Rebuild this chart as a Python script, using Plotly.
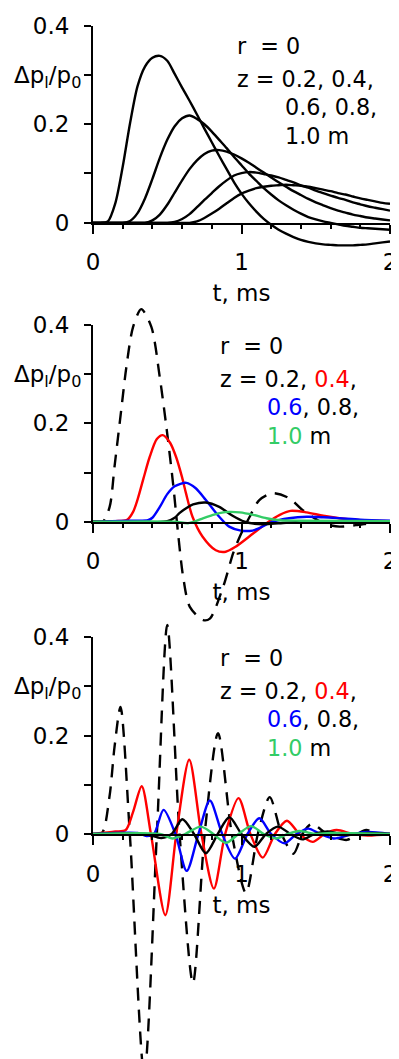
import plotly.graph_objects as go

# ---------------- data ----------------
# Panel 1 (common time grid, ms)
T1 = [0.00, 0.05, 0.10, 0.15, 0.20, 0.25, 0.30, 0.35, 0.40, 0.45, 0.50, 0.55, 0.60, 0.65,
      0.70, 0.75, 0.80, 0.85, 0.90, 0.95, 1.00, 1.05, 1.10, 1.15, 1.20, 1.25, 1.30, 1.35,
      1.40, 1.45, 1.50, 1.55, 1.60, 1.65, 1.70, 1.75, 1.80, 1.85, 1.90, 1.95, 2.00]
P1_Z02 = [0, 0, 0.003, 0.040, 0.115, 0.205, 0.280, 0.320, 0.338, 0.342, 0.332, 0.305, 0.277, 0.250,
          0.222, 0.193, 0.165, 0.137, 0.110, 0.083, 0.060, 0.040, 0.023, 0.008, -0.004, -0.014, -0.022, -0.029,
          -0.035, -0.039, -0.042, -0.044, -0.045, -0.046, -0.046, -0.046, -0.045, -0.044, -0.042, -0.040, -0.038]
P1_Z04 = [0, 0, 0, 0, 0, 0.004, 0.020, 0.050, 0.090, 0.133, 0.170, 0.198, 0.214, 0.220,
          0.213, 0.202, 0.187, 0.170, 0.153, 0.135, 0.118, 0.101, 0.086, 0.071, 0.058, 0.046, 0.036, 0.027,
          0.019, 0.012, 0.007, 0.003, 0.000, -0.003, -0.006, -0.008, -0.010, -0.011, -0.012, -0.013, -0.014]
P1_Z06 = [0, 0, 0, 0, 0, 0, 0, 0, 0.005, 0.017, 0.037, 0.062, 0.087, 0.110,
          0.128, 0.141, 0.148, 0.149, 0.146, 0.140, 0.132, 0.123, 0.113, 0.103, 0.093, 0.083, 0.074, 0.065,
          0.057, 0.049, 0.042, 0.036, 0.030, 0.025, 0.021, 0.017, 0.014, 0.011, 0.009, 0.007, 0.005]
P1_Z08 = [0, 0, 0, 0, 0, 0, 0, 0, 0, 0, 0, 0.002, 0.008, 0.018,
          0.032, 0.047, 0.061, 0.075, 0.087, 0.097, 0.102, 0.104, 0.103, 0.100, 0.097, 0.093, 0.088, 0.083,
          0.077, 0.072, 0.066, 0.061, 0.056, 0.051, 0.047, 0.042, 0.038, 0.034, 0.031, 0.028, 0.025]
P1_Z10 = [0, 0, 0, 0, 0, 0, 0, 0, 0, 0, 0, 0, 0, 0,
          0.003, 0.010, 0.019, 0.029, 0.040, 0.051, 0.060, 0.066, 0.071, 0.074, 0.076, 0.077, 0.078, 0.077,
          0.076, 0.074, 0.071, 0.068, 0.065, 0.061, 0.058, 0.054, 0.050, 0.047, 0.044, 0.041, 0.039]

# Panel 2
P2_T02 = [0, 0.066, 0.112, 0.145, 0.19, 0.225, 0.27, 0.325, 0.393, 0.449, 0.494, 0.539, 0.573, 0.607,
          0.652, 0.742, 0.787, 0.877, 0.944, 0.989, 1.055, 1.12, 1.21, 1.32, 1.41, 1.55, 1.66, 1.77, 1.89, 2.0]
P2_V02 = [0, 0, 0.03, 0.112, 0.227, 0.315, 0.396, 0.432, 0.396, 0.295, 0.193, 0.078, -0.024, -0.112,
          -0.173, -0.2, -0.197, -0.132, -0.064, -0.03, 0.01, 0.044, 0.058, 0.048, 0.024, -0.003, -0.01, -0.007, -0.002, 0]
P2_T04 = [0, 0.15, 0.23, 0.27, 0.3, 0.34, 0.38, 0.43, 0.47, 0.52, 0.559, 0.6, 0.626, 0.67, 0.737, 0.827,
          0.894, 0.96, 1.078, 1.168, 1.258, 1.33, 1.438, 1.55, 1.66, 1.8, 2.0]
P2_V04 = [0, 0.001, 0.004, 0.02, 0.045, 0.088, 0.13, 0.168, 0.176, 0.16, 0.132, 0.09, 0.058, 0.01, -0.03, -0.058,
          -0.061, -0.051, -0.024, -0.003, 0.014, 0.022, 0.019, 0.012, 0.007, 0.003, 0.001]
P2_T06 = [0, 0.25, 0.37, 0.4, 0.45, 0.5, 0.55, 0.629, 0.692, 0.76, 0.85, 0.917, 0.996, 1.075, 1.12, 1.21,
          1.32, 1.44, 1.55, 1.66, 1.8, 2.0]
P2_V06 = [0, 0.002, 0.003, 0.008, 0.03, 0.056, 0.072, 0.079, 0.068, 0.044, 0.01, -0.01, -0.018, -0.018, -0.013, 0.0,
          0.007, 0.01, 0.009, 0.007, 0.004, 0.002]
P2_T08 = [0, 0.5, 0.55, 0.584, 0.63, 0.674, 0.76, 0.85, 0.94, 1.02, 1.08, 1.17, 1.3, 1.45, 2.0]
P2_V08 = [0, 0.001, 0.008, 0.018, 0.028, 0.035, 0.039, 0.03, 0.012, 0.0, -0.004, -0.005, -0.002, 0.0, 0.001]
P2_T10 = [0, 0.55, 0.64, 0.7, 0.74, 0.8, 0.86, 0.918, 0.988, 1.078, 1.168, 1.258, 1.4, 2.0]
P2_V10 = [0, 0.0, -0.003, 0.002, 0.007, 0.013, 0.018, 0.02, 0.019, 0.014, 0.007, 0.003, 0.002, 0.001]

# Panel 3
P3_T02 = [0, 0.06, 0.111, 0.145, 0.185, 0.248, 0.345, 0.43, 0.5, 0.583, 0.673, 0.752, 0.842, 0.935,
          1.03, 1.11, 1.19, 1.27, 1.35, 1.41, 1.47, 1.58, 1.71, 1.78, 1.84, 1.92, 2.0]
P3_V02 = [0, 0.002, 0.076, 0.177, 0.258, 0, -0.49, 0, 0.425, 0, -0.303, 0, 0.205, 0,
          -0.12, 0, 0.075, 0, -0.04, 0, 0.02, 0, -0.012, 0, 0.008, 0, 0]
P3_T04 = [0, 0.15, 0.22, 0.27, 0.328, 0.39, 0.487, 0.561, 0.648, 0.73, 0.814, 0.89, 0.98, 1.06,
          1.143, 1.225, 1.306, 1.39, 1.48, 1.56, 1.64, 1.75, 1.85, 2.0]
P3_V04 = [0, 0.005, 0.008, 0.045, 0.097, 0, -0.165, 0, 0.151, 0, -0.111, 0, 0.073, 0,
          -0.048, 0, 0.027, 0, -0.016, 0, 0.008, 0, -0.003, 0]
P3_T06 = [0, 0.3, 0.36, 0.41, 0.475, 0.555, 0.631, 0.71, 0.787, 0.87, 0.956, 1.04, 1.12, 1.2,
          1.29, 1.37, 1.45, 1.53, 1.62, 1.75, 1.85, 2.0]
P3_V06 = [0, 0.002, -0.004, 0, 0.049, 0, -0.075, 0, 0.068, 0, -0.05, 0, 0.032, 0,
          -0.019, 0, 0.011, 0, -0.009, 0, 0.004, 0]
P3_T08 = [0, 0.35, 0.46, 0.53, 0.602, 0.68, 0.76, 0.84, 0.918, 1.0, 1.087, 1.165, 1.245, 1.33,
          1.41, 1.49, 1.58, 1.7, 1.85, 2.0]
P3_V08 = [0, 0, -0.008, 0, 0.03, 0, -0.039, 0, 0.034, 0, -0.026, 0, 0.015, 0,
          -0.011, 0, 0.005, -0.002, 0.002, 0]
P3_T10 = [0, 0.45, 0.534, 0.62, 0.726, 0.81, 0.895, 0.98, 1.064, 1.15, 1.233, 1.31, 1.39, 1.5, 1.6, 2.0]
P3_V10 = [0, 0, -0.009, 0, 0.015, 0, -0.018, 0, 0.016, 0, -0.009, 0, 0.006, 0, 0.002, 0]

X_TICKS = [0, 1, 2]
X_MINOR = [0.2, 0.4, 0.6, 0.8, 1.2, 1.4, 1.6, 1.8]
Y_TICKS = [0, 0.2, 0.4]
Y_TEXT = ["0", "0.2", "0.4"]
Y_MINOR = [0.1, 0.3]

# ---------------- geometry ----------------
BODY = 8                       # default page margin around the plot div
W, H = 399 - BODY, 1059 - BODY
XL, XR = 93.0 - BODY, 390.0 - BODY      # pixel of t=0 and t=2 (in figure coords)
PPU = 492.0                             # pixels per unit of dp/p0
ZERO_PY = [222.5 - BODY, 521.7 - BODY, 834.0 - BODY]
DATA_RANGE = [(-0.1, 0.44), (-0.25, 0.46), (-(H - ZERO_PY[2]) / PPU, 0.45)]

FONT = "DejaVu Sans"
FS = 23
FS_NOTE = 22.3
GREEN = "#33CC66"
DASH = "13px,9px"

fig = go.Figure()

panels = [
    [(T1, P1_Z02, "black", "solid"), (T1, P1_Z04, "black", "solid"), (T1, P1_Z06, "black", "solid"),
     (T1, P1_Z08, "black", "solid"), (T1, P1_Z10, "black", "solid")],
    [(P2_T02, P2_V02, "black", DASH), (P2_T04, P2_V04, "red", "solid"), (P2_T06, P2_V06, "blue", "solid"),
     (P2_T08, P2_V08, "black", "solid"), (P2_T10, P2_V10, GREEN, "solid")],
    [(P3_T02, P3_V02, "black", DASH), (P3_T04, P3_V04, "red", "solid"), (P3_T06, P3_V06, "blue", "solid"),
     (P3_T08, P3_V08, "black", "solid"), (P3_T10, P3_V10, GREEN, "solid")],
]

layout = dict(width=W, height=H, autosize=False,
              margin=dict(l=0, r=0, t=0, b=0, pad=0, autoexpand=False),
              paper_bgcolor="white", plot_bgcolor="rgba(0,0,0,0)", showlegend=False,
              font=dict(family=FONT, size=FS, color="black"))
annotations = []

xdom = [XL / W, XR / W]
for k in range(3):
    da = 2 * k + 1   # data axes index
    aa = 2 * k + 2   # visible axes index
    z = ZERO_PY[k]
    ymin, ymax = DATA_RANGE[k]
    dname = "" if da == 1 else str(da)
    # data subplot (invisible axes, lines may run below the zero axis)
    layout["xaxis" + dname] = dict(domain=xdom, range=[0, 2], visible=False, anchor="y" + dname,
                                   automargin=False)
    layout["yaxis" + dname] = dict(domain=[max(0, 1 - (z - ymin * PPU) / H), min(1, 1 - (z - ymax * PPU) / H)],
                                   range=[ymin, ymax], visible=False, anchor="x" + dname, automargin=False)
    # visible axes subplot
    layout["xaxis" + str(aa)] = dict(
        domain=xdom, range=[0, 2], anchor="y" + str(aa), automargin=False,
        tickvals=X_TICKS, ticktext=[str(v) for v in X_TICKS], ticks="outside", ticklen=9, tickwidth=1.5,
        tickcolor="black", showline=True, linecolor="black", linewidth=2, showgrid=False, zeroline=False,
        minor=dict(tickvals=X_MINOR, ticks="outside", ticklen=4, tickwidth=1.5, tickcolor="black", showgrid=False),
        tickfont=dict(family=FONT, size=FS), ticklabelstandoff=9,
        title=dict(text="t, ms", font=dict(family=FONT, size=FS), standoff=11))
    layout["yaxis" + str(aa)] = dict(
        domain=[1 - z / H, 1 - (z - 0.4 * PPU) / H], range=[0, 0.4], anchor="x" + str(aa), automargin=False,
        tickvals=Y_TICKS, ticktext=Y_TEXT, ticks="outside", ticklen=7, tickwidth=1.5, tickcolor="black",
        minor=dict(tickvals=Y_MINOR, ticks="outside", ticklen=7, tickwidth=1.5, tickcolor="black", showgrid=False),
        showline=True, linecolor="black", linewidth=2, showgrid=False, zeroline=False,
        tickfont=dict(family=FONT, size=FS), ticklabelstandoff=10)
    fig.add_trace(go.Scatter(x=[0], y=[0], mode="markers", marker=dict(opacity=0, size=1),
                             xaxis="x" + str(aa), yaxis="y" + str(aa), hoverinfo="skip"))
    for (tt, vv, col, dash) in panels[k]:
        fig.add_trace(go.Scatter(x=tt, y=vv, mode="lines", xaxis="x" + dname, yaxis="y" + dname,
                                 line=dict(color=col, width=2.4, dash=dash, shape="spline", smoothing=0.8),
                                 hoverinfo="skip"))
    # y label
    annotations.append(dict(text="Δp<sub>l</sub>/p<sub>0</sub>", xref="paper", x=(83 - BODY) / W, xanchor="right",
                            yref="y" + str(aa), y=0.296, yanchor="middle", showarrow=False,
                            font=dict(family=FONT, size=FS)))
    # text block
    if k == 0:
        xa, xb = 0.954, 1.278
        l2 = "z = 0.2, 0.4,"
        l3 = "0.6, 0.8,"
        l4 = "1.0 m"
    else:
        xa, xb = 0.84, 1.156
        l2 = "z = 0.2, <span style='color:red'>0.4</span>,"
        l3 = "<span style='color:blue'>0.6</span>, 0.8,"
        l4 = "<span style='color:%s'>1.0</span> m" % GREEN
    for (txt, xx, yy) in [("r  = 0", xa, 0.358), (l2, xa, 0.291), (l3, xb, 0.234), (l4, xb, 0.175)]:
        annotations.append(dict(text=txt, xref="x" + str(aa), yref="y" + str(aa), x=xx, y=yy,
                                xanchor="left", yanchor="middle", showarrow=False,
                                font=dict(family=FONT, size=FS_NOTE)))

layout["annotations"] = annotations
fig.update_layout(**layout)
fig.write_html("out.html")
